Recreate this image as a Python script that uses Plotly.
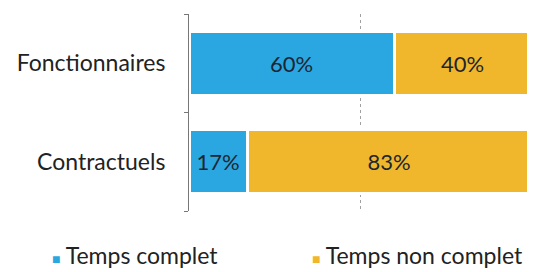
import plotly.graph_objects as go

categories = ["Fonctionnaires", "Contractuels"]
temps_complet = [60, 17]
temps_non_complet = [40, 83]
series_names = ["Temps complet", "Temps non complet"]
colors = ["#2AA7E0", "#F1B72C"]

FONT = "Lato, 'Open Sans', sans-serif"

fig = go.Figure()
for name, vals, col in zip(series_names, [temps_complet, temps_non_complet], colors):
    fig.add_trace(go.Bar(
        y=categories, x=vals, name=name, orientation="h",
        marker=dict(color=col, line=dict(color="white", width=3)),
        text=[f"{v}%" for v in vals], textposition="inside",
        insidetextanchor="middle", constraintext="none",
        textfont=dict(family=FONT, size=22, color="#1c2630"),
        showlegend=False, hoverinfo="skip",
    ))

# page body has an 8px default margin, so the figure is sized to fit the window
fig.update_layout(
    barmode="stack", bargap=0.35,
    width=527, height=264,
    margin=dict(l=181, r=4, t=6, b=61, autoexpand=False),
    paper_bgcolor="white", plot_bgcolor="white",
    font=dict(family=FONT, size=22, color="#222222"),
    showlegend=False,
    xaxis=dict(range=[0, 100], dtick=50, showticklabels=False, showgrid=True,
               gridcolor="#a0a0a0", gridwidth=1, zeroline=False, showline=False,
               griddash="dot", automargin=False),
    yaxis=dict(categoryorder="array", categoryarray=categories[::-1],
               showline=True, linecolor="#777777", linewidth=1,
               ticks="outside", ticklen=4, tickcolor="#777777", tickson="boundaries",
               showgrid=False, ticklabelstandoff=18, automargin=False,
               tickfont=dict(family=FONT, size=23, color="#222222")),
)

legend_x = [-0.405, 0.355]
for name, col, lx in zip(series_names, colors, legend_x):
    fig.add_annotation(
        xref="paper", yref="paper", x=lx, y=0, yshift=-44,
        xanchor="left", yanchor="middle", showarrow=False,
        text=f"<span style='color:{col};font-size:14px'>■</span> {name}",
        font=dict(family=FONT, size=23, color="#222222"),
    )

fig.write_html("out.html")
